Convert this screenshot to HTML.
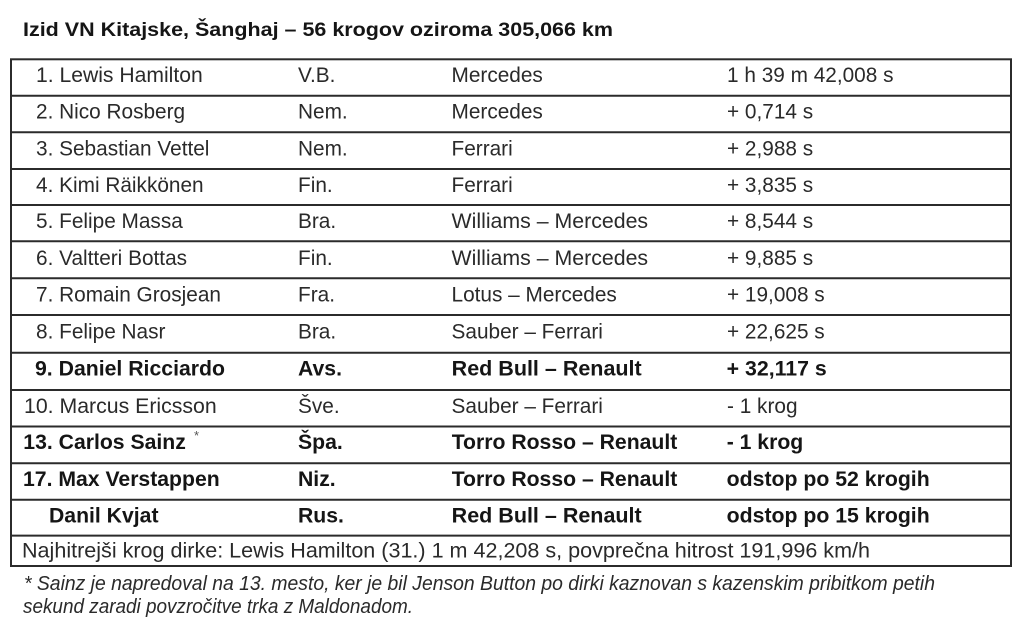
<!DOCTYPE html>
<html>
<head>
<meta charset="utf-8">
<style>
html,body{margin:0;padding:0;background:#fff;}
body{width:1024px;height:622px;overflow:hidden;}
svg{display:block;}
.n{font-family:"Liberation Sans",Arial,sans-serif;font-size:20.8px;fill:#2a2a2a;}
.b{font-family:"Liberation Sans",Arial,sans-serif;font-size:21.2px;font-weight:bold;fill:#151515;}
.t{font-family:"Liberation Sans",Arial,sans-serif;font-size:19.5px;font-weight:bold;fill:#151515;}
.f{font-family:"Liberation Sans",Arial,sans-serif;font-size:20px;font-style:italic;fill:#2a2a2a;}
.ln{stroke:#2b2b2b;stroke-width:2;}
</style>
</head>
<body>
<svg width="1024" height="622" viewBox="0 0 1024 622" xmlns="http://www.w3.org/2000/svg">
<rect width="1024" height="622" fill="#fff"/>
<text class="t" x="23" y="36" textLength="590" lengthAdjust="spacingAndGlyphs">Izid VN Kitajske, Šanghaj – 56 krogov oziroma 305,066 km</text>

<!-- table border -->
<rect x="11" y="59.3" width="1000" height="506.7" fill="none" class="ln"/>
<line class="ln" x1="11" x2="1011" y1="95.7" y2="95.7"/>
<line class="ln" x1="11" x2="1011" y1="132.3" y2="132.3"/>
<line class="ln" x1="11" x2="1011" y1="169" y2="169"/>
<line class="ln" x1="11" x2="1011" y1="205" y2="205"/>
<line class="ln" x1="11" x2="1011" y1="241.3" y2="241.3"/>
<line class="ln" x1="11" x2="1011" y1="278.3" y2="278.3"/>
<line class="ln" x1="11" x2="1011" y1="315" y2="315"/>
<line class="ln" x1="11" x2="1011" y1="352.7" y2="352.7"/>
<line class="ln" x1="11" x2="1011" y1="390" y2="390"/>
<line class="ln" x1="11" x2="1011" y1="426.5" y2="426.5"/>
<line class="ln" x1="11" x2="1011" y1="463.2" y2="463.2"/>
<line class="ln" x1="11" x2="1011" y1="499.8" y2="499.8"/>
<line class="ln" x1="11" x2="1011" y1="535.6" y2="535.6"/>

<!-- row 1 -->
<text class="n" x="36" y="82" textLength="166.7" lengthAdjust="spacingAndGlyphs">1. Lewis Hamilton</text>
<text class="n" x="298" y="82">V.B.</text>
<text class="n" x="451.5" y="82">Mercedes</text>
<text class="n" x="727" y="82">1 h 39 m 42,008 s</text>
<!-- row 2 -->
<text class="n" x="36" y="118.7">2. Nico Rosberg</text>
<text class="n" x="298" y="118.7">Nem.</text>
<text class="n" x="451.5" y="118.7">Mercedes</text>
<text class="n" x="727" y="118.7">+ 0,714 s</text>
<!-- row 3 -->
<text class="n" x="36" y="155.3">3. Sebastian Vettel</text>
<text class="n" x="298" y="155.3">Nem.</text>
<text class="n" x="451.5" y="155.3">Ferrari</text>
<text class="n" x="727" y="155.3">+ 2,988 s</text>
<!-- row 4 -->
<text class="n" x="36" y="191.8">4. Kimi Räikkönen</text>
<text class="n" x="298" y="191.8">Fin.</text>
<text class="n" x="451.5" y="191.8">Ferrari</text>
<text class="n" x="727" y="191.8">+ 3,835 s</text>
<!-- row 5 -->
<text class="n" x="36" y="228.2">5. Felipe Massa</text>
<text class="n" x="298" y="228.2">Bra.</text>
<text class="n" x="451.5" y="228.2" textLength="196.6" lengthAdjust="spacingAndGlyphs">Williams – Mercedes</text>
<text class="n" x="727" y="228.2">+ 8,544 s</text>
<!-- row 6 -->
<text class="n" x="36" y="264.8">6. Valtteri Bottas</text>
<text class="n" x="298" y="264.8">Fin.</text>
<text class="n" x="451.5" y="264.8" textLength="196.6" lengthAdjust="spacingAndGlyphs">Williams – Mercedes</text>
<text class="n" x="727" y="264.8">+ 9,885 s</text>
<!-- row 7 -->
<text class="n" x="36" y="301.5">7. Romain Grosjean</text>
<text class="n" x="298" y="301.5">Fra.</text>
<text class="n" x="451.5" y="301.5">Lotus – Mercedes</text>
<text class="n" x="727" y="301.5">+ 19,008 s</text>
<!-- row 8 -->
<text class="n" x="36" y="338.3">8. Felipe Nasr</text>
<text class="n" x="298" y="338.3">Bra.</text>
<text class="n" x="451.5" y="338.3">Sauber – Ferrari</text>
<text class="n" x="727" y="338.3">+ 22,625 s</text>
<!-- row 9 bold -->
<text class="b" x="35" y="375.3" textLength="190" lengthAdjust="spacingAndGlyphs">9. Daniel Ricciardo</text>
<text class="b" x="298" y="375.3">Avs.</text>
<text class="b" x="451.7" y="375.3" textLength="190" lengthAdjust="spacingAndGlyphs">Red Bull – Renault</text>
<text class="b" x="726.7" y="375.3" textLength="100" lengthAdjust="spacingAndGlyphs">+ 32,117 s</text>
<!-- row 10 -->
<text class="n" x="24" y="413" textLength="192.7" lengthAdjust="spacingAndGlyphs">10. Marcus Ericsson</text>
<text class="n" x="298" y="413">Šve.</text>
<text class="n" x="451.5" y="413">Sauber – Ferrari</text>
<text class="n" x="727" y="413">- 1 krog</text>
<!-- row 11 bold -->
<text class="b" x="23.3" y="449">13. Carlos Sainz</text>
<text class="n" x="194" y="440" style="font-size:13px;fill:#555">*</text>
<text class="b" x="298" y="449">Špa.</text>
<text class="b" x="451.7" y="449">Torro Rosso – Renault</text>
<text class="b" x="726.7" y="449">- 1 krog</text>
<!-- row 12 bold -->
<text class="b" x="23" y="485.8">17. Max Verstappen</text>
<text class="b" x="298" y="485.8">Niz.</text>
<text class="b" x="451.7" y="485.8">Torro Rosso – Renault</text>
<text class="b" x="726.7" y="485.8" textLength="203" lengthAdjust="spacingAndGlyphs">odstop po 52 krogih</text>
<!-- row 13 bold -->
<text class="b" x="49" y="522.3">Danil Kvjat</text>
<text class="b" x="298" y="522.3">Rus.</text>
<text class="b" x="451.7" y="522.3" textLength="190" lengthAdjust="spacingAndGlyphs">Red Bull – Renault</text>
<text class="b" x="726.7" y="522.3" textLength="203" lengthAdjust="spacingAndGlyphs">odstop po 15 krogih</text>
<!-- fastest lap -->
<text class="n" x="22" y="557.5" textLength="848" lengthAdjust="spacingAndGlyphs">Najhitrejši krog dirke: Lewis Hamilton (31.) 1 m 42,208 s, povprečna hitrost 191,996 km/h</text>

<!-- footnote -->
<text class="f" x="24" y="590" textLength="911" lengthAdjust="spacingAndGlyphs">* Sainz je napredoval na 13. mesto, ker je bil Jenson Button po dirki kaznovan s kazenskim pribitkom petih</text>
<text class="f" x="23" y="613" textLength="390" lengthAdjust="spacingAndGlyphs">sekund zaradi povzročitve trka z Maldonadom.</text>
</svg>
</body>
</html>
